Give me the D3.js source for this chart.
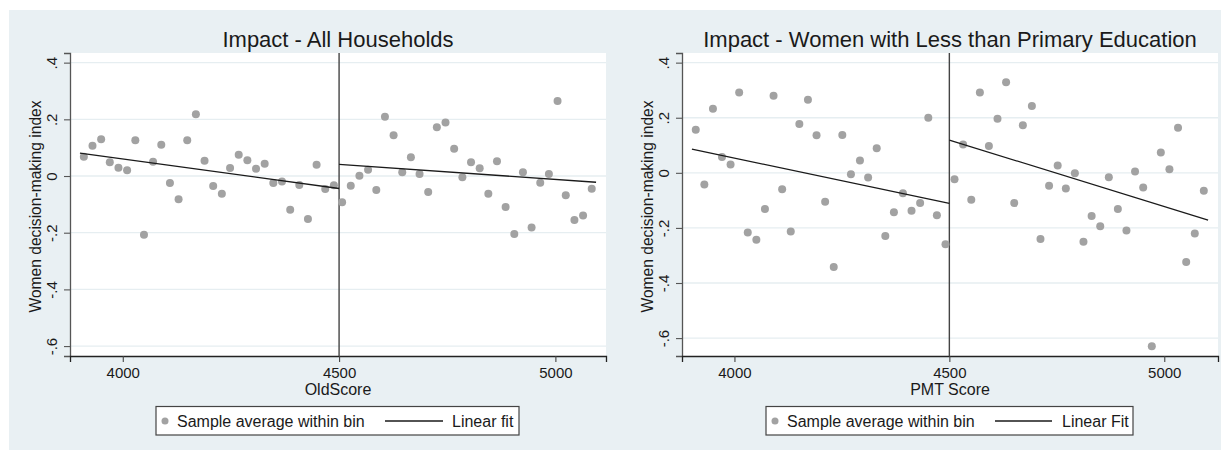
<!DOCTYPE html>
<html><head><meta charset="utf-8">
<script src="https://cdn.jsdelivr.net/npm/d3@7"></script>
<style>body{margin:0;background:#fff}svg{display:block}text{font-family:"Liberation Sans",Arial,sans-serif;fill:#1a1a1a}</style>
</head><body><div id="chart"></div>
<script>
// ---------- data ----------
const allX = [3910,3930,3950,3970,3990,4010,4029,4049,4070,4089,4109,4129,4149,4169,4189,4209,4229,4248,4268,4288,4308,4328,4348,4368,4387,4408,4428,4448,4468,4488,
              4507,4527,4547,4567,4586,4606,4626,4646,4666,4686,4706,4726,4746,4766,4785,4805,4825,4845,4865,4885,4905,4925,4945,4965,4985,5005,5024,5044,5064,5084];
const allY = [0.068,0.107,0.130,0.049,0.029,0.020,0.126,-0.207,0.050,0.110,-0.025,-0.082,0.126,0.218,0.054,-0.035,-0.063,0.028,0.075,0.056,0.026,0.043,-0.025,-0.019,-0.119,-0.032,-0.152,0.040,-0.046,-0.033,
              -0.093,-0.034,0.001,0.022,-0.049,0.209,0.144,0.013,0.066,0.007,-0.056,0.172,0.189,0.096,-0.004,0.049,0.027,-0.063,0.052,-0.109,-0.205,0.013,-0.182,-0.024,0.007,0.265,-0.068,-0.155,-0.139,-0.045];
const allFitX = [[3901,4500],[4500,5094]];
const allFitY = [[0.081,-0.044],[0.041,-0.022]];

const womX = [3910,3930,3950,3971,3991,4011,4031,4051,4071,4091,4111,4131,4151,4171,4191,4211,4231,4251,4271,4292,4311,4331,4351,4371,4392,4412,4432,4451,4471,4491,
              4512,4532,4551,4571,4592,4612,4632,4651,4671,4692,4712,4732,4752,4771,4792,4812,4831,4851,4871,4892,4912,4932,4951,4971,4992,5012,5032,5051,5071,5092];
const womY = [0.156,-0.042,0.233,0.057,0.030,0.292,-0.217,-0.243,-0.131,0.280,-0.060,-0.213,0.177,0.265,0.136,-0.105,-0.342,0.137,-0.005,0.045,-0.017,0.089,-0.229,-0.143,-0.074,-0.138,-0.110,0.200,-0.154,-0.259,
              -0.023,0.103,-0.098,0.292,0.097,0.196,0.329,-0.110,0.173,0.243,-0.240,-0.047,0.027,-0.057,-0.002,-0.250,-0.157,-0.194,-0.016,-0.131,-0.209,0.005,-0.053,-0.630,0.074,0.013,0.164,-0.324,-0.220,-0.065];
const womFitX = [[3901,4500],[4500,5102]];
const womFitY = [[0.086,-0.111],[0.119,-0.172]];

const xTicks = [4000,4500,5000];
const yTicks = [0.4,0.2,0,-0.2,-0.4,-0.6];
const yTickLabels = [".4",".2","0","-.2","-.4","-.6"];
const cutoff = 4500;
const titles = ["Impact - All Households","Impact - Women with Less than Primary Education"];
const xTitles = ["OldScore","PMT Score"];
const yTitle = "Women decision-making index";
const legendLabels = [["Sample average within bin","Linear fit"],["Sample average within bin","Linear Fit"]];

// ---------- drawing ----------
const W = 1221, H = 451;
const svg = d3.select("#chart").append("svg").attr("width", W).attr("height", H);
svg.append("rect").attr("x", 9).attr("y", 10).attr("width", W - 9).attr("height", H - 10 - 1).attr("fill", "#e9f0f3");

const panels = [
  {x0: 70, x1: 606, y0: 53, y1: 356, xd: [3878, 5117], yd: [-0.635, 0.434], px: allX, py: allY, fx: allFitX, fy: allFitY,
   leg: {x0: 156, x1: 519, dot: 165, t1: 177, l0: 385, l1: 443, t2: 452}},
  {x0: 682, x1: 1218, y0: 53, y1: 356, xd: [3878, 5125], yd: [-0.665, 0.435], px: womX, py: womY, fx: womFitX, fy: womFitY,
   leg: {x0: 766, x1: 1133, dot: 775, t1: 787, l0: 995, l1: 1052, t2: 1062}}
];

panels.forEach((p, i) => {
  const g = svg.append("g");
  const x = d3.scaleLinear().domain(p.xd).range([p.x0, p.x1]);
  const y = d3.scaleLinear().domain(p.yd).range([p.y1, p.y0]);

  g.append("rect").attr("x", p.x0).attr("y", p.y0).attr("width", p.x1 - p.x0).attr("height", p.y1 - p.y0).attr("fill", "#fff");

  // grid
  g.selectAll(".grid").data(yTicks).join("line")
    .attr("x1", p.x0 + 1).attr("x2", p.x1).attr("y1", d => y(d)).attr("y2", d => y(d))
    .attr("stroke", "#e6eef1").attr("stroke-width", 1.3);

  // y axis
  const ya = g.append("g").attr("transform", `translate(${p.x0},0)`)
    .call(d3.axisLeft(y).tickValues(yTicks).tickSize(6).tickPadding(0).tickFormat((d, k) => yTickLabels[k]));
  ya.select(".domain").attr("stroke", "#555").attr("stroke-width", 1.3);
  ya.selectAll(".tick line").attr("stroke", "#555").attr("stroke-width", 1.1);
  ya.selectAll(".tick text").attr("transform", "translate(-13,0) rotate(-90)")
    .attr("text-anchor", "middle").attr("x", 0).attr("y", 0).attr("dy", "0").attr("font-size", 15).attr("fill", "#1a1a1a");

  // x axis
  const xa = g.append("g").attr("transform", `translate(0,${p.y1})`)
    .call(d3.axisBottom(x).tickValues(xTicks).tickSize(6).tickPadding(5).tickFormat(d3.format("d")));
  xa.select(".domain").attr("stroke", "#222").attr("stroke-width", 1.3);
  xa.selectAll(".tick line").attr("stroke", "#444").attr("stroke-width", 1.1);
  xa.selectAll(".tick text").attr("font-size", 15).attr("fill", "#1a1a1a");

  // cutoff line
  g.append("line").attr("x1", x(cutoff)).attr("x2", x(cutoff)).attr("y1", p.y0).attr("y2", p.y1)
    .attr("stroke", "#444").attr("stroke-width", 1.4);

  // points
  g.selectAll(".pt").data(p.px.map((v, k) => [v, p.py[k]])).join("circle")
    .attr("cx", d => x(d[0])).attr("cy", d => y(d[1])).attr("r", 4).attr("fill", "#a2a2a2");

  // fits
  const line = d3.line().x(d => x(d[0])).y(d => y(d[1]));
  p.fx.forEach((fx, k) => {
    g.append("path").attr("d", line([[fx[0], p.fy[k][0]], [fx[1], p.fy[k][1]]]))
      .attr("fill", "none").attr("stroke", "#1a1a1a").attr("stroke-width", 1.3);
  });

  // titles
  const cx = (p.x0 + p.x1) / 2;
  g.append("text").attr("x", cx).attr("y", 47).attr("text-anchor", "middle").attr("font-size", 22).text(titles[i]);
  g.append("text").attr("x", cx).attr("y", 395).attr("text-anchor", "middle").attr("font-size", 16).text(xTitles[i]);
  g.append("text").attr("transform", `translate(${p.x0 - 29},${(p.y0 + p.y1) / 2 + 2}) rotate(-90)`)
    .attr("text-anchor", "middle").attr("font-size", 15.6).text(yTitle);

  // legend
  const L = p.leg;
  g.append("rect").attr("x", L.x0).attr("y", 406.5).attr("width", L.x1 - L.x0).attr("height", 28.5)
    .attr("fill", "#fff").attr("stroke", "#444").attr("stroke-width", 1.2);
  g.append("circle").attr("cx", L.dot).attr("cy", 421).attr("r", 3.5).attr("fill", "#a2a2a2");
  g.append("text").attr("x", L.t1).attr("y", 426.5).attr("font-size", 16).text(legendLabels[i][0]);
  g.append("line").attr("x1", L.l0).attr("x2", L.l1).attr("y1", 421).attr("y2", 421).attr("stroke", "#1a1a1a").attr("stroke-width", 1.3);
  g.append("text").attr("x", L.t2).attr("y", 426.5).attr("font-size", 16).text(legendLabels[i][1]);
});
</script></body></html>
